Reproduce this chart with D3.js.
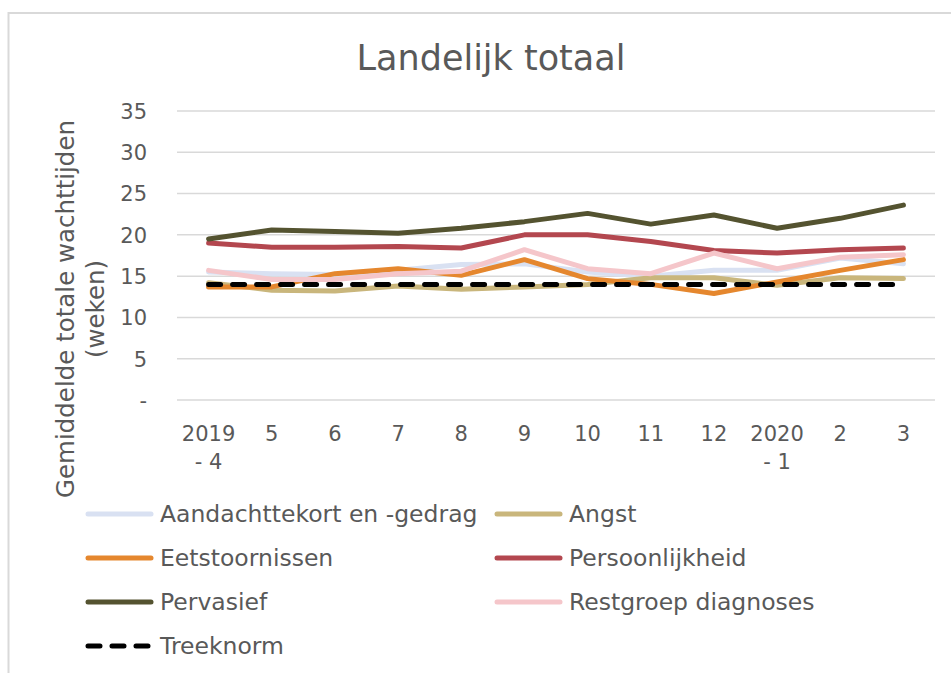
<!DOCTYPE html>
<html>
<head>
<meta charset="utf-8">
<script src="https://cdn.jsdelivr.net/npm/d3@7"></script>
<style>
  body { margin: 0; background: #fff; }
  svg text { font-family: "Century Gothic", "DejaVu Sans", sans-serif; fill: #595959; }
</style>
</head>
<body>
<svg id="chart" width="951" height="673"></svg>
<script>
// maand-labels (twee regels waar nodig)
const months = [["2019", "- 4"], ["5"], ["6"], ["7"], ["8"], ["9"], ["10"], ["11"], ["12"], ["2020", "- 1"], ["2"], ["3"]];
const yTicks = [0, 5, 10, 15, 20, 25, 30, 35];

const aandacht = [15.5, 15.3, 15.2, 15.7, 16.4, 16.5, 15.5, 15.0, 15.7, 15.7, 17.2, 16.5];
const angst = [14.2, 13.3, 13.2, 13.8, 13.4, 13.7, 14.0, 14.8, 14.8, 13.9, 14.8, 14.7];
const eet = [13.7, 13.7, 15.3, 15.9, 15.1, 17.0, 14.7, 14.0, 12.9, 14.3, 15.7, 17.0];
const pers = [19.0, 18.5, 18.5, 18.6, 18.4, 20.0, 20.0, 19.2, 18.1, 17.8, 18.2, 18.4];
const perv = [19.5, 20.6, 20.4, 20.2, 20.8, 21.6, 22.6, 21.3, 22.4, 20.8, 22.0, 23.6];
const rest = [15.7, 14.6, 14.6, 15.3, 15.6, 18.2, 15.9, 15.3, 17.8, 15.9, 17.3, 17.6];
const treeknorm = [14, 14, 14, 14, 14, 14, 14, 14, 14, 14, 14, 14];

const series = [
  { name: "Aandachttekort en -gedrag", values: aandacht, color: "#d9e1f2" },
  { name: "Angst", values: angst, color: "#c9b67c" },
  { name: "Eetstoornissen", values: eet, color: "#e5872e" },
  { name: "Persoonlijkheid", values: pers, color: "#b3474f" },
  { name: "Pervasief", values: perv, color: "#545330" },
  { name: "Restgroep diagnoses", values: rest, color: "#f5c6ca" },
  { name: "Treeknorm", values: treeknorm, color: "#000000", dash: "12,12" }
];

const svg = d3.select("#chart");

// kader
svg.append("rect")
  .attr("x", 8.5).attr("y", 13)
  .attr("width", 960).attr("height", 700)
  .attr("fill", "none").attr("stroke", "#d9d9d9").attr("stroke-width", 2);

svg.append("text")
  .attr("x", 491).attr("y", 70)
  .attr("text-anchor", "middle")
  .style("font-size", "35px")
  .text("Landelijk totaal");

const x = d3.scaleBand()
  .domain(d3.range(months.length))
  .range([177, 935]);

const y = d3.scaleLinear()
  .domain([0, 35])
  .range([400, 111]);

// rasterlijnen
svg.append("g")
  .selectAll("line")
  .data(yTicks)
  .join("line")
  .attr("x1", 177).attr("x2", 935)
  .attr("y1", d => y(d)).attr("y2", d => y(d))
  .attr("stroke", "#d9d9d9").attr("stroke-width", 1.5);

// y-as labels
const yAxis = svg.append("g")
  .attr("transform", "translate(147,0)")
  .call(d3.axisLeft(y).tickValues(yTicks).tickSize(0).tickPadding(0)
    .tickFormat(d => d === 0 ? "-" : d));
yAxis.select(".domain").remove();
yAxis.selectAll("text")
  .style("font-size", "21px")
  .attr("fill", "#595959")
  .attr("dy", "0.35em");

// x-as labels
const xg = svg.append("g");
months.forEach((m, i) => {
  const t = xg.append("text")
    .attr("text-anchor", "middle")
    .style("font-size", "21px");
  m.forEach((line, j) => {
    t.append("tspan")
      .attr("x", x(i) + x.bandwidth() / 2)
      .attr("y", 441 + j * 28)
      .text(line);
  });
});

// as-titel
const yt = svg.append("text")
  .attr("transform", "translate(74,309) rotate(-90)")
  .attr("text-anchor", "middle")
  .style("font-size", "24.5px");
yt.append("tspan").attr("x", 0).attr("y", 0).text("Gemiddelde totale wachttijden");
yt.append("tspan").attr("x", 0).attr("y", 30).text("(weken)");

const line = d3.line()
  .x((d, i) => x(i) + x.bandwidth() / 2)
  .y(d => y(d));

svg.append("g")
  .selectAll("path")
  .data(series)
  .join("path")
  .attr("d", d => line(d.values))
  .attr("fill", "none")
  .attr("stroke", d => d.color)
  .attr("stroke-width", 5)
  .attr("stroke-linecap", "round")
  .attr("stroke-linejoin", "round")
  .attr("stroke-dasharray", d => d.dash || null);

// legenda
const leg = svg.append("g");
series.forEach((s, i) => {
  const col = i % 2, row = Math.floor(i / 2);
  const lx = col === 0 ? 88 : 497;
  const ly = 514 + row * 44;
  leg.append("line")
    .attr("x1", lx).attr("x2", lx + 63)
    .attr("y1", ly).attr("y2", ly)
    .attr("stroke", s.color).attr("stroke-width", 5)
    .attr("stroke-linecap", "round")
    .attr("stroke-dasharray", s.dash ? "12,12" : null);
  leg.append("text")
    .attr("x", lx + 72).attr("y", ly)
    .attr("dy", "0.35em")
    .style("font-size", "23.5px")
    .text(s.name);
});
</script>
</body>
</html>
